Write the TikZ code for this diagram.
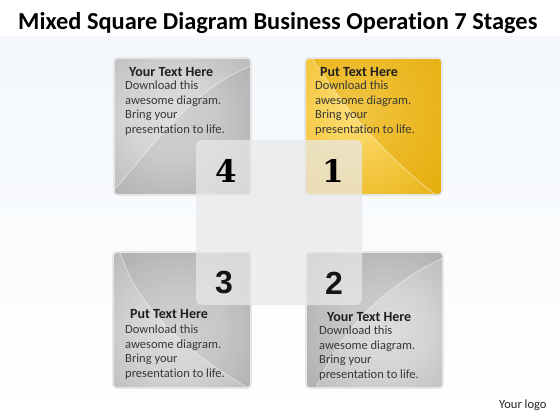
\documentclass[tikz,border=0pt]{standalone}
\usepackage{fontspec}
\newfontfamily\carl[Ligatures={NoCommon,NoRequired,NoContextual}]{Carlito}
\newfontfamily\arialb{Liberation Sans}
\newfontfamily\slabserif{DejaVu Serif}
\pgfdeclareradialshading{grayglow}{\pgfpoint{0bp}{0bp}}{rgb(0bp)=(0.87,0.87,0.87); rgb(12bp)=(0.83,0.83,0.83); rgb(42bp)=(0.64,0.64,0.64); rgb(50bp)=(0.62,0.62,0.62)}
\pgfdeclareradialshading{goldglow}{\pgfpoint{0bp}{0bp}}{rgb(0bp)=(0.99,0.88,0.48); rgb(12bp)=(0.97,0.81,0.32); rgb(40bp)=(0.89,0.67,0.02); rgb(50bp)=(0.87,0.64,0.0)}
\definecolor{bgtint}{RGB}{243,247,251}
\definecolor{framec}{RGB}{228,230,232}
\definecolor{overlayc}{RGB}{233,233,235}
\definecolor{darkgold}{RGB}{226,166,0}
\begin{document}
\begin{tikzpicture}[x=1pt,y=-1pt,
  boxclip/.style={rounded corners=4pt},
  boxframe/.style={draw=framec, line width=1.6pt, rounded corners=4pt},
  swoosh/.style={draw=white, draw opacity=0.4, line width=1pt},
  head/.style={anchor=base west, font=\carl\bfseries\fontsize{14}{16}\selectfont, text=black!88, inner sep=0pt},
  body/.style={anchor=north west, align=left, font=\carl\fontsize{12.5}{14.5}\selectfont, text=black!78, inner sep=0pt},
  numserif/.style={font=\slabserif\bfseries\fontsize{31}{34}\selectfont, text=black, inner sep=0pt},
  numsans/.style={font=\arialb\bfseries\fontsize{32}{34}\selectfont, text=black!92, inner sep=0pt}]
\useasboundingbox (0,0) rectangle (560,420);
% background
\fill[white] (0,0) rectangle (560,420);
\shade[top color=bgtint, bottom color=white] (0,37) rectangle (560,420);
% title
\node[anchor=base west, inner sep=0pt, font=\carl\bfseries\fontsize{24.4}{28}\selectfont] (title) at (18,30) {Mixed Square Diagram Business Operation 7 Stages};
% ---- box 4 (top left)
\begin{scope}
\clip[boxclip] (114,58) rectangle (251,195);
\shade[shading=grayglow] (82,28) rectangle (262,208);
\fill[black, opacity=0.05] (114,195) -- (114,190) .. controls (150,150) and (190,90) .. (251,66) -- (251,195) -- cycle;
\path[swoosh] (114,190) .. controls (150,150) and (190,90) .. (251,66);
\end{scope}
\draw[boxframe] (114,58) rectangle (251,195);
% ---- box 1 (top right)
\begin{scope}
\clip[boxclip] (305,58) rectangle (442,195);
\shade[shading=goldglow] (265,20) rectangle (445,200);
\fill[darkgold, opacity=0.45] (312,58) .. controls (345,110) and (390,160) .. (436,195) -- (442,195) -- (442,58) -- cycle;
\path[swoosh] (312,58) .. controls (345,110) and (390,160) .. (436,195);
\end{scope}
\draw[boxframe] (305,58) rectangle (442,195);
% ---- box 3 (bottom left)
\begin{scope}
\clip[boxclip] (113,252) rectangle (251,388);
\shade[shading=grayglow] (88,240) rectangle (268,420);
\fill[black, opacity=0.06] (120,252) .. controls (135,300) and (175,345) .. (248,388) -- (251,388) -- (251,252) -- cycle;
\path[swoosh] (120,252) .. controls (135,300) and (175,345) .. (248,388);
\end{scope}
\draw[boxframe] (113,252) rectangle (251,388);
% ---- box 2 (bottom right)
\begin{scope}
\clip[boxclip] (306,252) rectangle (443,388);
\shade[shading=grayglow] (295,240) rectangle (475,420);
\fill[black, opacity=0.06] (316,388) .. controls (340,330) and (385,285) .. (443,258) -- (443,252) -- (306,252) -- (306,388) -- cycle;
\path[swoosh] (316,388) .. controls (340,330) and (385,285) .. (443,258);
\end{scope}
\draw[boxframe] (306,252) rectangle (443,388);
% ---- box texts
\node[head] (h4) at (129,77) {Your Text Here};
\node[body] (b4) at (125,81) {Download this\\awesome diagram.\\Bring your\\presentation to life.};
\node[head] (h1) at (320,77) {Put Text Here};
\node[body] (b1) at (315,81) {Download this\\awesome diagram.\\Bring your\\presentation to life.};
\node[head] (h3) at (130,318) {Put Text Here};
\node[body] (b3) at (125,325) {Download this\\awesome diagram.\\Bring your\\presentation to life.};
\node[head] (h2) at (327,321) {Your Text Here};
\node[body] (b2) at (319,326) {Download this\\awesome diagram.\\Bring your\\presentation to life.};
% ---- central translucent square
\fill[overlayc, opacity=0.72, rounded corners=6pt] (196,140) rectangle (362,305);
% ---- numbers
\node[numserif] (n4) at (226,171) {4};
\node[numserif] (n1) at (333,171) {1};
\node[numsans] (n3) at (224,283) {3};
\node[numsans] (n2) at (334,283) {2};
% logo
\node[anchor=base west, inner sep=0pt, font=\carl\fontsize{12.5}{14}\selectfont, text=black!85] (logo) at (499,408) {Your logo};
\end{tikzpicture}
\end{document}
